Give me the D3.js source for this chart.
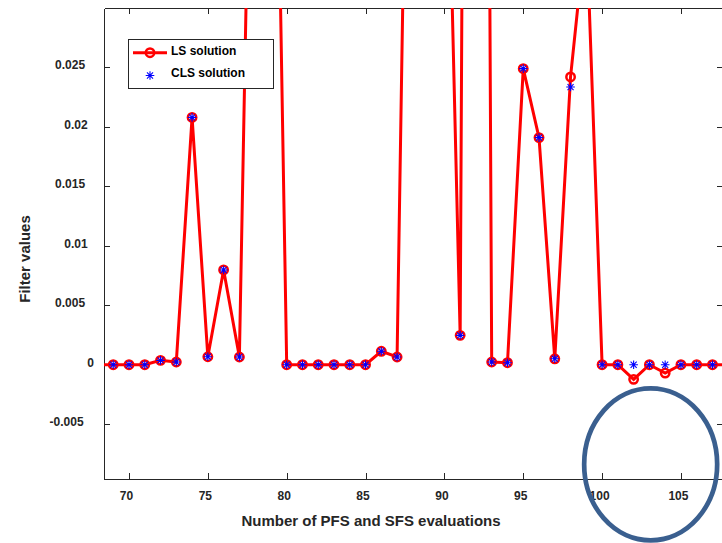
<!DOCTYPE html>
<html>
<head>
<meta charset="utf-8">
<script src="https://cdnjs.cloudflare.com/ajax/libs/d3/7.8.5/d3.min.js"></script>
<style>
  body { margin: 0; background: #fff; }
  svg { display: block; font-family: "Liberation Sans", Arial, sans-serif; font-weight: bold; }
</style>
</head>
<body>
<div id="vis-svg"></div>
<script>
// evaluation numbers (x values)
var evals = [68, 69, 70, 71, 72, 73, 74, 75, 76, 77, 78, 79, 80, 81, 82, 83, 84, 85, 86, 87, 88,
  89, 90, 91, 92, 93, 94, 95, 96, 97, 98, 99, 100, 101, 102, 103, 104, 105, 106, 107, 108];

// LS solution filter values (points above 0.03 are off the chart, estimated from line slopes)
var lsValues = [0, 0, 0, 0, 0.00037, 0.00023, 0.0208, 0.00067, 0.00797, 0.00065, 0.0708,
  0.0775, 0, 0, 0, 0, 0, 0, 0.00113, 0.00065, 0.0833, 0.07, 0.0576, 0.00247, 0.26,
  0.00023, 0.00017, 0.0249, 0.0191, 0.0005, 0.0242, 0.037, 0, 0, -0.00123, 0, -0.0007,
  0, 0, 0, 0];

// CLS solution filter values (constrained, no negatives)
var clsValues = [0, 0, 0, 0, 0.00037, 0.00023, 0.0208, 0.00067, 0.00797, 0.00065, 0.0708,
  0.0775, 0, 0, 0, 0, 0, 0, 0.00113, 0.00065, 0.0833, 0.07, 0.0576, 0.00247, 0.26,
  0.00023, 0.00017, 0.0249, 0.0191, 0.0005, 0.02335, 0.037, 0, 0, 0, 0, 0,
  0, 0, 0, 0];

var xTicks = [70, 75, 80, 85, 90, 95, 100, 105];
var yTicks = [-0.005, 0, 0.005, 0.01, 0.015, 0.02, 0.025];
var yTickLabels = ["-0.005", "0", "0.005", "0.01", "0.015", "0.02", "0.025"];
var legendLabels = ["LS solution", "CLS solution"];
var xLabel = "Number of PFS and SFS evaluations",
  yLabel = "Filter values";

var width = 722, height = 543,
  plot = {left: 104, right: 723, top: 8, bottom: 479},
  axisColor = "#262626";

var svg = d3.select("#vis-svg").append("svg")
  .attr("width", width)
  .attr("height", height);

var x = d3.scaleLinear().domain([68.415, 107.667]).range([plot.left, plot.right]);
var y = d3.scaleLinear().domain([-0.00961, 0.03]).range([plot.bottom, plot.top]);

// draw an 8 armed asterisk like matlab's '*' marker
function starPath(s) {
  var d = s * 0.707;
  return "M" + (-s) + ",0H" + s + "M0," + (-s) + "V" + s +
    "M" + (-d) + "," + (-d) + "L" + d + "," + d +
    "M" + (-d) + "," + d + "L" + d + "," + (-d);
}

// style an axis group
function styleAxis(g) {
  g.attr("font-family", null).attr("font-size", 12).attr("color", axisColor);
  g.selectAll("path, line").attr("stroke-width", 1).attr("shape-rendering", "crispEdges");
}

// axes (ticks point inward, box around the plot)
var xAxis = svg.append("g")
  .attr("transform", "translate(0," + plot.bottom + ")")
  .call(d3.axisBottom(x).tickValues(xTicks).tickSizeInner(-6).tickSizeOuter(0).tickPadding(12.5))
  .call(styleAxis);
xAxis.selectAll("text").attr("dx", -3).attr("fill", axisColor);

svg.append("g")
  .attr("transform", "translate(0," + plot.top + ")")
  .call(d3.axisTop(x).tickValues(xTicks).tickSizeInner(-6).tickSizeOuter(0).tickFormat(""))
  .call(styleAxis);

var yAxis = svg.append("g")
  .attr("transform", "translate(" + plot.left + ",0)")
  .call(d3.axisLeft(y).tickValues(yTicks).tickSizeInner(-6).tickSizeOuter(0)
    .tickFormat(function(d, i) { return yTickLabels[i]; }))
  .call(styleAxis);
yAxis.selectAll("text")
  .attr("dy", "0.12em")
  .attr("fill", axisColor)
  .attr("x", function() { return -7.5 - 0.38 * this.getComputedTextLength(); });

svg.append("g")
  .attr("transform", "translate(" + plot.right + ",0)")
  .call(d3.axisRight(y).tickValues(yTicks).tickSizeInner(-6).tickSizeOuter(0).tickFormat(""))
  .call(styleAxis);

// axis titles
svg.append("text")
  .attr("x", 371).attr("y", 526)
  .attr("text-anchor", "middle")
  .attr("font-size", 15)
  .attr("fill", axisColor)
  .text(xLabel);

svg.append("text")
  .attr("transform", "translate(30,259) rotate(-90)")
  .attr("text-anchor", "middle")
  .attr("font-size", 15)
  .attr("fill", axisColor)
  .text(yLabel);

// clip the data to the plot box
svg.append("clipPath").attr("id", "clip")
  .append("rect")
  .attr("x", plot.left).attr("y", plot.top)
  .attr("width", plot.right - plot.left).attr("height", plot.bottom - plot.top);

var data = svg.append("g").attr("clip-path", "url(#clip)");

// LS solution: red line with circles
var line = d3.line()
  .x(function(d, i) { return x(evals[i]); })
  .y(function(d) { return y(d); });

data.append("path")
  .datum(lsValues)
  .attr("d", line)
  .attr("fill", "none")
  .attr("stroke", "#ff0000")
  .attr("stroke-width", 3);

data.selectAll("circle.ls")
  .data(lsValues)
  .enter().append("circle")
  .attr("class", "ls")
  .attr("cx", function(d, i) { return x(evals[i]); })
  .attr("cy", function(d) { return y(d); })
  .attr("r", 4.2)
  .attr("fill", "none")
  .attr("stroke", "#ff0000")
  .attr("stroke-width", 2.5);

// CLS solution: blue stars
data.selectAll("path.cls")
  .data(clsValues)
  .enter().append("path")
  .attr("class", "cls")
  .attr("transform", function(d, i) { return "translate(" + x(evals[i]) + "," + y(d) + ")"; })
  .attr("d", starPath(4.3))
  .attr("fill", "none")
  .attr("stroke", "#0000ff")
  .attr("stroke-width", 1.1);

// legend
var legend = svg.append("g");
legend.append("rect")
  .attr("x", 128.5).attr("y", 39.5)
  .attr("width", 145).attr("height", 49)
  .attr("fill", "#fff")
  .attr("stroke", axisColor)
  .attr("stroke-width", 1);
legend.append("line")
  .attr("x1", 133).attr("x2", 167).attr("y1", 52.7).attr("y2", 52.7)
  .attr("stroke", "#ff0000").attr("stroke-width", 3);
legend.append("circle")
  .attr("cx", 150).attr("cy", 52.7).attr("r", 4.2)
  .attr("fill", "none").attr("stroke", "#ff0000").attr("stroke-width", 2.5);
legend.append("path")
  .attr("transform", "translate(150,75.5)")
  .attr("d", starPath(4.3))
  .attr("fill", "none").attr("stroke", "#0000ff").attr("stroke-width", 1.1);
legend.selectAll("text")
  .data(legendLabels)
  .enter().append("text")
  .attr("x", 171)
  .attr("y", function(d, i) { return 55 + i * 22; })
  .attr("font-size", 12)
  .attr("fill", "#000")
  .text(function(d) { return d; });

// annotation ellipse around the region where the solutions differ
svg.append("ellipse")
  .attr("cx", x(103.08))
  .attr("cy", y(-0.00838))
  .attr("rx", 66.5)
  .attr("ry", 76)
  .attr("fill", "none")
  .attr("stroke", "#3a5f8f")
  .attr("stroke-width", 4.7);
</script>
</body>
</html>
